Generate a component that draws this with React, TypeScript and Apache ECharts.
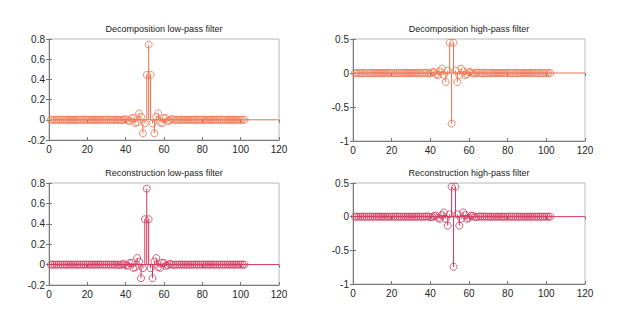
import React, { useEffect, useRef } from "react";
import * as echarts from "echarts";

// Discrete Meyer wavelet filters (102 taps), indices 1..102
const decLow = [
  0, 0, 0, 0, 0, 0, 0, 0, 0, 0,
  0, 0, 0, 0, 0, 0, 0, 0, 0, 0,
  0, 0, 0, 0, 0, 0, 0, 0, 0, 0,
  0, 0, 0, 0, 0, 0.0001, -0.0006, -0.0027, 0.0022, 0.006,
  -0.0064, -0.0111, 0.0153, 0.0174, -0.0321, -0.0243, 0.0637, 0.0307, -0.1328, -0.0351,
  0.4446, 0.7446, 0.4446, -0.0351, -0.1328, 0.0307, 0.0637, -0.0243, -0.0321, 0.0174,
  0.0153, -0.0111, -0.0064, 0.006, 0.0022, -0.0027, -0.0006, 0.0001, 0, 0,
  0, 0, 0, 0, 0, 0, 0, 0, 0, 0,
  0, 0, 0, 0, 0, 0, 0, 0, 0, 0,
  0, 0, 0, 0, 0, 0, 0, 0, 0, 0,
  0, 0,
];
const decHigh = [
  0, 0, 0, 0, 0, 0, 0, 0, 0, 0,
  0, 0, 0, 0, 0, 0, 0, 0, 0, 0,
  0, 0, 0, 0, 0, 0, 0, 0, 0, 0,
  0, 0, 0, 0, -0.0001, -0.0006, 0.0027, 0.0022, -0.006, -0.0064,
  0.0111, 0.0153, -0.0174, -0.0321, 0.0243, 0.0637, -0.0307, -0.1328, 0.0351, 0.4446,
  -0.7446, 0.4446, 0.0351, -0.1328, -0.0307, 0.0637, 0.0243, -0.0321, -0.0174, 0.0153,
  0.0111, -0.0064, -0.006, 0.0022, 0.0027, -0.0006, -0.0001, 0, 0, 0,
  0, 0, 0, 0, 0, 0, 0, 0, 0, 0,
  0, 0, 0, 0, 0, 0, 0, 0, 0, 0,
  0, 0, 0, 0, 0, 0, 0, 0, 0, 0,
  0, 0,
];
const recLow = [
  0, 0, 0, 0, 0, 0, 0, 0, 0, 0,
  0, 0, 0, 0, 0, 0, 0, 0, 0, 0,
  0, 0, 0, 0, 0, 0, 0, 0, 0, 0,
  0, 0, 0, 0, 0.0001, -0.0006, -0.0027, 0.0022, 0.006, -0.0064,
  -0.0111, 0.0153, 0.0174, -0.0321, -0.0243, 0.0637, 0.0307, -0.1328, -0.0351, 0.4446,
  0.7446, 0.4446, -0.0351, -0.1328, 0.0307, 0.0637, -0.0243, -0.0321, 0.0174, 0.0153,
  -0.0111, -0.0064, 0.006, 0.0022, -0.0027, -0.0006, 0.0001, 0, 0, 0,
  0, 0, 0, 0, 0, 0, 0, 0, 0, 0,
  0, 0, 0, 0, 0, 0, 0, 0, 0, 0,
  0, 0, 0, 0, 0, 0, 0, 0, 0, 0,
  0, 0,
];
const recHigh = [
  0, 0, 0, 0, 0, 0, 0, 0, 0, 0,
  0, 0, 0, 0, 0, 0, 0, 0, 0, 0,
  0, 0, 0, 0, 0, 0, 0, 0, 0, 0,
  0, 0, 0, 0, 0, -0.0001, -0.0006, 0.0027, 0.0022, -0.006,
  -0.0064, 0.0111, 0.0153, -0.0174, -0.0321, 0.0243, 0.0637, -0.0307, -0.1328, 0.0351,
  0.4446, -0.7446, 0.4446, 0.0351, -0.1328, -0.0307, 0.0637, 0.0243, -0.0321, -0.0174,
  0.0153, 0.0111, -0.0064, -0.006, 0.0022, 0.0027, -0.0006, -0.0001, 0, 0,
  0, 0, 0, 0, 0, 0, 0, 0, 0, 0,
  0, 0, 0, 0, 0, 0, 0, 0, 0, 0,
  0, 0, 0, 0, 0, 0, 0, 0, 0, 0,
  0, 0,
];

const titles = [
  "Decomposition low-pass filter",
  "Decomposition high-pass filter",
  "Reconstruction low-pass filter",
  "Reconstruction high-pass filter",
];
const X_MIN = 0;
const X_MAX = 120;
const X_STEP = 20;
const lowYMin = -0.2;
const lowYMax = 0.8;
const lowYStep = 0.2;
const highYMin = -1;
const highYMax = 0.5;
const highYStep = 0.5;

const ORANGE = "#f0714a";
const CRIMSON = "#d2365a";
const FONT = "Liberation Sans, Arial, sans-serif";

export default function App() {
  const ref = useRef<HTMLDivElement>(null);
  useEffect(() => {
    if (!ref.current) return;
    const chart = echarts.init(ref.current, undefined, { renderer: "svg" });

    const panels = [
      { data: decLow, color: ORANGE, ymin: lowYMin, ymax: lowYMax, ystep: lowYStep, grid: { left: 49, top: 39, width: 230, height: 101 } },
      { data: decHigh, color: ORANGE, ymin: highYMin, ymax: highYMax, ystep: highYStep, grid: { left: 353, top: 39, width: 232, height: 102 } },
      { data: recLow, color: CRIMSON, ymin: lowYMin, ymax: lowYMax, ystep: lowYStep, grid: { left: 49, top: 183, width: 230, height: 102 } },
      { data: recHigh, color: CRIMSON, ymin: highYMin, ymax: highYMax, ystep: highYStep, grid: { left: 353, top: 183, width: 232, height: 101 } },
    ];

    const grid: any[] = [];
    const xAxis: any[] = [];
    const yAxis: any[] = [];
    const series: any[] = [];
    const graphic: any[] = [];

    panels.forEach((p, k) => {
      grid.push({
        ...p.grid,
        show: true,
        borderColor: "#b8b8b8",
        borderWidth: 1,
        backgroundColor: "#fff",
        containLabel: false,
      });
      const tickStyle = { show: true, inside: true, length: 3, lineStyle: { color: "#777", width: 1 } };
      xAxis.push({
        type: "value",
        gridIndex: k,
        min: X_MIN,
        max: X_MAX,
        interval: X_STEP,
        position: "bottom",
        axisLine: { show: true, onZero: false, lineStyle: { color: "#7a7a7a", width: 1 } },
        axisTick: tickStyle,
        splitLine: { show: false },
        axisLabel: { color: "#262626", fontSize: 10, fontFamily: FONT, margin: 4 },
      });
      xAxis.push({
        type: "value",
        gridIndex: k,
        min: X_MIN,
        max: X_MAX,
        interval: X_STEP,
        position: "top",
        axisLine: { show: false },
        axisTick: tickStyle,
        splitLine: { show: false },
        axisLabel: { show: false },
      });
      yAxis.push({
        type: "value",
        gridIndex: k,
        min: p.ymin,
        max: p.ymax,
        interval: p.ystep,
        position: "left",
        axisLine: { show: true, onZero: false, lineStyle: { color: "#7a7a7a", width: 1 } },
        axisTick: tickStyle,
        splitLine: { show: false },
        axisLabel: { color: "#262626", fontSize: 10, fontFamily: FONT, margin: 4 },
      });
      yAxis.push({
        type: "value",
        gridIndex: k,
        min: p.ymin,
        max: p.ymax,
        interval: p.ystep,
        position: "right",
        axisLine: { show: false },
        axisTick: tickStyle,
        splitLine: { show: false },
        axisLabel: { show: false },
      });

      const color = p.color;
      series.push({
        type: "line",
        xAxisIndex: k * 2,
        yAxisIndex: k * 2,
        data: [[X_MIN, 0], [X_MAX, 0]],
        symbol: "none",
        lineStyle: { color, width: 1 },
        silent: true,
      });
      series.push({
        type: "custom",
        xAxisIndex: k * 2,
        yAxisIndex: k * 2,
        data: p.data.map((v, i) => [i + 1, v]),
        renderItem: (params: any, api: any) => {
          const x = api.value(0);
          const y = api.value(1);
          const p0 = api.coord([x, 0]);
          const p1 = api.coord([x, y]);
          return {
            type: "group",
            children: [
              {
                type: "line",
                shape: { x1: p0[0], y1: p0[1], x2: p1[0], y2: p1[1] },
                style: { stroke: color, lineWidth: 1 },
              },
              {
                type: "circle",
                shape: { cx: p1[0], cy: p1[1], r: 3.5 },
                style: { fill: "none", stroke: color, lineWidth: 0.8 },
              },
            ],
          };
        },
      });

      graphic.push({
        type: "text",
        x: p.grid.left + p.grid.width / 2,
        y: p.grid.top - 10,
        style: {
          text: titles[k],
          fill: "#1a1a1a",
          font: `9px ${FONT}`,
          textAlign: "center",
          textVerticalAlign: "middle",
        },
      });
    });

    chart.setOption({
      animation: false,
      backgroundColor: "#fff",
      grid,
      xAxis,
      yAxis,
      series,
      graphic,
    });
    return () => chart.dispose();
  }, []);

  return (
    <div
      ref={ref}
      style={{ position: "absolute", left: 0, top: 0, width: 619, height: 325, background: "#fff" }}
    />
  );
}
